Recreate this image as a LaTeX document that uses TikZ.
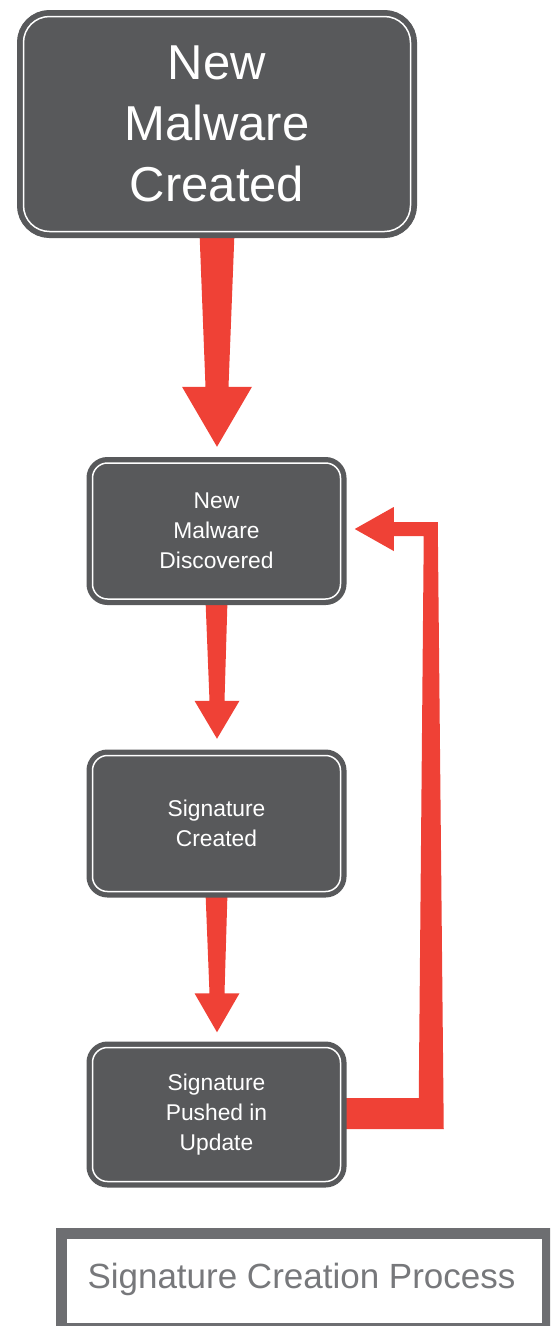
\documentclass[tikz,border=0pt]{standalone}
\usepackage{fontspec}
\setmainfont{Liberation Sans}
\usetikzlibrary{calc,backgrounds}
\definecolor{boxdark}{HTML}{58595B}
\definecolor{arrowred}{HTML}{EF4136}
\definecolor{framegray}{HTML}{6D6E71}
\definecolor{titletext}{HTML}{77787B}
\tikzset{
  procbox/.style={rectangle, rounded corners=15pt, fill=boxdark, draw=white, line width=1.5pt,
    preaction={draw=boxdark, line width=12pt},
    minimum width=248pt, minimum height=136pt, inner sep=0pt, text=white, align=center,
    font=\fontsize{22.8}{30}\selectfont},
  bigbox/.style={procbox, rounded corners=26pt, preaction={draw=boxdark, line width=13pt},
    minimum width=387pt, minimum height=215pt, font=\fontsize{49}{61}\selectfont},
  redfill/.style={fill=arrowred},
  framebox/.style={draw=framegray, line width=11pt, minimum width=486.5pt, minimum height=95pt, inner sep=0pt},
}
\newcommand{\taperarrow}[7]{% start, tip, h, hw, w1, w2
  \fill[redfill] ($(#1)+(-#5,0)$) -- ($(#2)+(-#6,-#3)$) -- ($(#2)+(-#4,-#3)$) -- (#2)
    -- ($(#2)+(#4,-#3)$) -- ($(#2)+(#6,-#3)$) -- ($(#1)+(#5,0)$) -- cycle;}
\begin{document}
\begin{tikzpicture}[x=1pt,y=-1pt]
\useasboundingbox (0,0) rectangle (550,1326);
\clip (0,0) rectangle (550,1326);
\node[bigbox] (created) at (217,124) {New\\Malware\\Created};
\node[procbox] (discovered) at (216.5,531) {New\\Malware\\Discovered};
\node[procbox] (signature) at (216.5,823.5) {Signature\\Created};
\node[procbox, minimum height=134pt] (pushed) at (216.5,1114.5) {Signature\\Pushed in\\Update};
\coordinate (t1) at ($(discovered.north)+(0.5,-15.5)$);
\coordinate (t2) at ($(signature.north)+(0.5,-16)$);
\coordinate (t3) at ($(pushed.north)+(0.5,-14.5)$);
\begin{pgfonlayer}{background}
  \taperarrow{created.south}{t1}{60}{35}{17.5}{11.5}{}
  \taperarrow{discovered.south}{t2}{38}{22.5}{11}{7.5}{}
  \taperarrow{signature.south}{t3}{39}{22.5}{11}{7.5}{}
  \fill[redfill] ($(pushed.east)+(0,-16.5)$) -- ($(pushed.east)+(77.5,-16.5)$)
    -- ($(discovered.east)+(82.5,5)$) -- ($(discovered.east)+(52.5,5)$)
    -- ($(discovered.east)+(52.5,20)$) -- ($(discovered.east)+(13.5,-2)$)
    -- ($(discovered.east)+(52.5,-24)$) -- ($(discovered.east)+(52.5,-9)$)
    -- ($(discovered.east)+(96.5,-9)$) -- ($(pushed.east)+(102.5,14.5)$)
    -- ($(pushed.east)+(0,14.5)$) -- cycle;
\end{pgfonlayer}
\node[framebox] (frame) at (304.25,1281) {};
\node[anchor=base, text=titletext, font=\fontsize{35}{40}\selectfont, inner sep=0pt] (title) at (301.5,1288) {Signature Creation Process};
\end{tikzpicture}
\end{document}
